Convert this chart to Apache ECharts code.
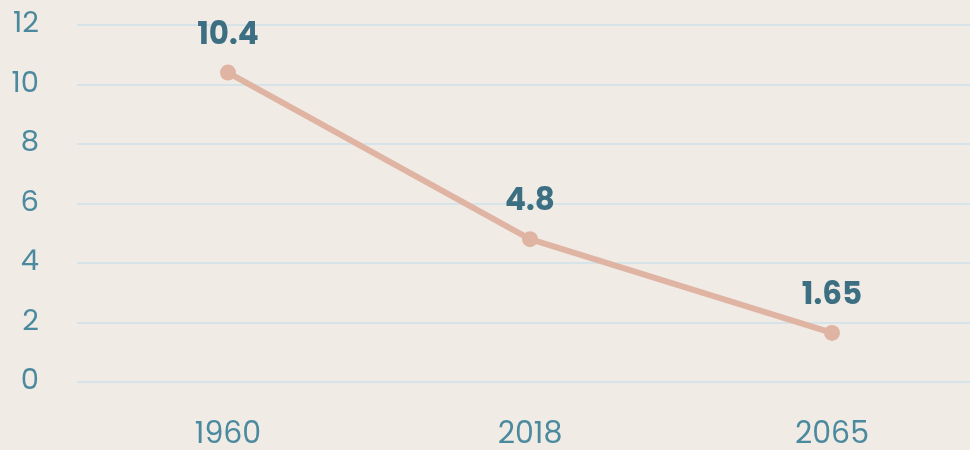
<!DOCTYPE html>
<html>
<head>
<meta charset="utf-8">
<script src="https://cdn.jsdelivr.net/npm/echarts@6/dist/echarts.min.js"></script>
<style>
  html, body { margin: 0; padding: 0; background: #f0ebe5; overflow: hidden; }
  #chart { width: 983px; height: 450px; }
</style>
</head>
<body>
<div id="chart"></div>
<script>
var years = ['1960', '2018', '2065'];
var values = [10.4, 4.8, 1.65];
var valueLabels = ['10.4', '4.8', '1.65'];

var chart = echarts.init(document.getElementById('chart'));
var option = {
  backgroundColor: '#f0ebe5',
  animation: false,
  grid: { left: 77, right: 0, top: 25, bottom: 65 },
  xAxis: {
    type: 'category',
    data: years,
    boundaryGap: true,
    axisLine: { show: false },
    axisTick: { show: false },
    axisLabel: { color: '#4b8a9e', fontFamily: 'Poppins, Open Sans', fontWeight: 400, fontSize: 30, margin: 38 }
  },
  yAxis: {
    type: 'value',
    min: 0,
    max: 12,
    interval: 2,
    axisLine: { show: false },
    axisTick: { show: false },
    axisLabel: { color: '#4b8a9e', fontFamily: 'Poppins, Open Sans', fontWeight: 400, fontSize: 29, margin: 38 },
    splitLine: { lineStyle: { color: '#d6e4ea', width: 2 } }
  },
  series: [
    {
      type: 'line',
      data: values,
      symbol: 'circle',
      symbolSize: 16,
      lineStyle: { color: '#e0b4a3', width: 6 },
      itemStyle: { color: '#e0b4a3' },
      label: {
        show: true,
        position: 'top',
        distance: 13,
        color: '#3d6f82',
        fontFamily: 'Poppins, Open Sans',
        fontWeight: 'bold',
        fontSize: 31,
        formatter: function (p) { return valueLabels[p.dataIndex]; }
      }
    }
  ]
};
chart.setOption(option);
</script>
</body>
</html>
